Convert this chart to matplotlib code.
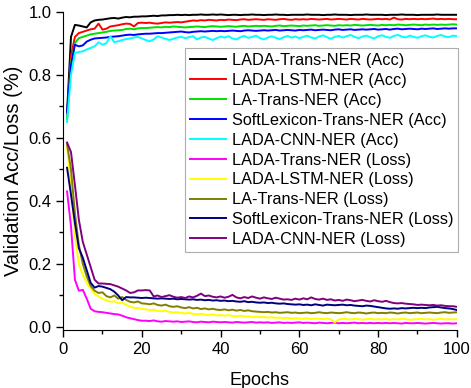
import numpy as np
import matplotlib
matplotlib.use("Agg")
import matplotlib.pyplot as plt
from matplotlib.ticker import MultipleLocator

plt.rcParams['font.family'] = ['Liberation Sans', 'DejaVu Sans']

epochs = np.arange(1, 101)

# validation accuracy
lada_trans_acc = [
    0.68, 0.92, 0.958, 0.956, 0.953, 0.950, 0.966, 0.972, 0.974, 0.975,
    0.977, 0.979, 0.980, 0.978, 0.981, 0.983, 0.982, 0.984, 0.984, 0.985,
    0.985, 0.986, 0.987, 0.986, 0.988, 0.988, 0.989, 0.989, 0.990, 0.989,
    0.990, 0.989, 0.990, 0.990, 0.991, 0.990, 0.990, 0.991, 0.990, 0.991,
    0.990, 0.989, 0.990, 0.990, 0.989, 0.990, 0.990, 0.991, 0.990, 0.990,
    0.989, 0.990, 0.990, 0.991, 0.990, 0.990, 0.989, 0.990, 0.990, 0.990,
    0.990, 0.991, 0.990, 0.990, 0.990, 0.989, 0.990, 0.990, 0.991, 0.990,
    0.990, 0.990, 0.989, 0.990, 0.990, 0.990, 0.991, 0.990, 0.990, 0.990,
    0.990, 0.989, 0.990, 0.990, 0.990, 0.991, 0.990, 0.990, 0.990, 0.989,
    0.990, 0.990, 0.990, 0.990, 0.991, 0.990, 0.990, 0.990, 0.990, 0.990]
lada_lstm_acc = [
    0.66, 0.86, 0.92, 0.932, 0.936, 0.940, 0.944, 0.946, 0.962, 0.943,
    0.946, 0.953, 0.955, 0.957, 0.960, 0.962, 0.961, 0.953, 0.964, 0.965,
    0.964, 0.965, 0.963, 0.962, 0.964, 0.966, 0.965, 0.966, 0.967, 0.966,
    0.968, 0.970, 0.972, 0.971, 0.973, 0.972, 0.974, 0.973, 0.972, 0.974,
    0.973, 0.975, 0.974, 0.973, 0.975, 0.976, 0.974, 0.975, 0.976, 0.975,
    0.974, 0.976, 0.975, 0.974, 0.976, 0.977, 0.975, 0.974, 0.976, 0.975,
    0.976, 0.975, 0.977, 0.976, 0.975, 0.976, 0.977, 0.975, 0.976, 0.977,
    0.976, 0.975, 0.977, 0.976, 0.975, 0.977, 0.976, 0.975, 0.976, 0.977,
    0.976, 0.977, 0.975, 0.981, 0.976, 0.975, 0.977, 0.976, 0.977, 0.976,
    0.977, 0.976, 0.977, 0.978, 0.976, 0.977, 0.976, 0.977, 0.976, 0.976]
la_trans_acc = [
    0.66, 0.84, 0.90, 0.916, 0.920, 0.924, 0.928, 0.930, 0.932, 0.934,
    0.936, 0.939, 0.940, 0.941, 0.942, 0.945, 0.946, 0.944, 0.947, 0.948,
    0.948, 0.949, 0.950, 0.951, 0.950, 0.952, 0.951, 0.953, 0.952, 0.951,
    0.950, 0.951, 0.952, 0.953, 0.952, 0.951, 0.953, 0.954, 0.953, 0.952,
    0.953, 0.954, 0.953, 0.952, 0.954, 0.955, 0.953, 0.954, 0.955, 0.954,
    0.955, 0.954, 0.953, 0.955, 0.956, 0.954, 0.955, 0.956, 0.955, 0.954,
    0.956, 0.955, 0.956, 0.957, 0.955, 0.956, 0.957, 0.956, 0.955, 0.957,
    0.956, 0.957, 0.956, 0.958, 0.957, 0.956, 0.957, 0.958, 0.957, 0.956,
    0.958, 0.957, 0.958, 0.957, 0.959, 0.958, 0.957, 0.958, 0.959, 0.958,
    0.957, 0.959, 0.958, 0.959, 0.958, 0.959, 0.958, 0.959, 0.960, 0.959]
softlex_acc = [
    0.68, 0.83, 0.895, 0.890, 0.893, 0.905, 0.911, 0.915, 0.916, 0.917,
    0.918, 0.920, 0.921, 0.922, 0.924, 0.926, 0.927, 0.926, 0.928, 0.929,
    0.930, 0.930, 0.931, 0.932, 0.932, 0.933, 0.934, 0.935, 0.936, 0.937,
    0.935, 0.934, 0.936, 0.937, 0.938, 0.937, 0.938, 0.939, 0.938, 0.939,
    0.938, 0.939, 0.940, 0.939, 0.938, 0.940, 0.941, 0.940, 0.939, 0.940,
    0.941, 0.940, 0.941, 0.942, 0.940, 0.941, 0.942, 0.941, 0.940, 0.942,
    0.941, 0.942, 0.943, 0.941, 0.942, 0.943, 0.942, 0.941, 0.943, 0.944,
    0.942, 0.943, 0.944, 0.942, 0.943, 0.944, 0.943, 0.944, 0.945, 0.943,
    0.944, 0.945, 0.943, 0.945, 0.946, 0.944, 0.945, 0.946, 0.945, 0.944,
    0.946, 0.945, 0.946, 0.947, 0.945, 0.946, 0.947, 0.946, 0.947, 0.947]
lada_cnn_acc = [
    0.65, 0.80, 0.869, 0.872, 0.874, 0.880, 0.885, 0.890, 0.903, 0.895,
    0.900, 0.922, 0.903, 0.906, 0.910, 0.913, 0.915, 0.918, 0.920, 0.915,
    0.910, 0.906, 0.912, 0.922, 0.918, 0.914, 0.910, 0.914, 0.918, 0.920,
    0.916, 0.919, 0.922, 0.912, 0.918, 0.920, 0.915, 0.910, 0.916, 0.921,
    0.918, 0.922, 0.915, 0.912, 0.919, 0.923, 0.917, 0.920, 0.924, 0.916,
    0.912, 0.918, 0.922, 0.917, 0.913, 0.919, 0.923, 0.918, 0.921, 0.916,
    0.920, 0.924, 0.918, 0.915, 0.921, 0.925, 0.919, 0.914, 0.920, 0.923,
    0.918, 0.922, 0.926, 0.920, 0.916, 0.921, 0.924, 0.919, 0.915, 0.922,
    0.925, 0.920, 0.917, 0.923, 0.926, 0.921, 0.918, 0.924, 0.920, 0.917,
    0.922, 0.925, 0.920, 0.918, 0.923, 0.926, 0.921, 0.919, 0.924, 0.922]

# validation loss
lada_trans_loss = [
    0.43, 0.32, 0.15, 0.115, 0.118, 0.090, 0.058, 0.050, 0.048, 0.047,
    0.045, 0.043, 0.041, 0.040, 0.036, 0.031, 0.028, 0.025, 0.022, 0.020,
    0.020, 0.019, 0.021, 0.018, 0.017, 0.019, 0.018, 0.017, 0.018, 0.016,
    0.017, 0.018, 0.016, 0.015, 0.017, 0.016, 0.015, 0.017, 0.016, 0.015,
    0.016, 0.015, 0.014, 0.016, 0.015, 0.014, 0.015, 0.016, 0.014, 0.015,
    0.014, 0.015, 0.013, 0.014, 0.015, 0.013, 0.014, 0.013, 0.014, 0.015,
    0.013, 0.014, 0.013, 0.012, 0.014, 0.013, 0.012, 0.013, 0.014, 0.012,
    0.013, 0.012, 0.013, 0.014, 0.012, 0.013, 0.012, 0.013, 0.012, 0.013,
    0.012, 0.013, 0.012, 0.013, 0.012, 0.011, 0.013, 0.012, 0.012, 0.013,
    0.012, 0.011, 0.012, 0.013, 0.012, 0.011, 0.012, 0.012, 0.011, 0.012]
lada_lstm_loss = [
    0.57, 0.45, 0.29, 0.20, 0.165, 0.140, 0.122, 0.105, 0.097, 0.090,
    0.085, 0.080, 0.082, 0.075, 0.078, 0.070, 0.065, 0.061, 0.060, 0.058,
    0.056, 0.054, 0.055, 0.051, 0.050, 0.052, 0.048, 0.046, 0.047, 0.045,
    0.043, 0.045, 0.042, 0.040, 0.042, 0.039, 0.038, 0.040, 0.037, 0.038,
    0.036, 0.038, 0.035, 0.034, 0.036, 0.033, 0.034, 0.032, 0.033, 0.031,
    0.032, 0.030, 0.031, 0.029, 0.030, 0.028, 0.029, 0.027, 0.028, 0.027,
    0.026, 0.028, 0.025, 0.027, 0.026, 0.025, 0.027, 0.024, 0.015, 0.024,
    0.026, 0.025, 0.024, 0.026, 0.025, 0.023, 0.025, 0.026, 0.024, 0.025,
    0.024, 0.026, 0.023, 0.025, 0.024, 0.026, 0.025, 0.023, 0.024, 0.025,
    0.026, 0.024, 0.025, 0.023, 0.025, 0.026, 0.024, 0.025, 0.024, 0.025]
la_trans_loss = [
    0.58, 0.50, 0.36, 0.26, 0.20, 0.160, 0.130, 0.115, 0.108, 0.110,
    0.098, 0.094, 0.100, 0.090, 0.095, 0.086, 0.080, 0.078, 0.081, 0.075,
    0.074, 0.072, 0.075, 0.070, 0.068, 0.071, 0.066, 0.064, 0.066, 0.062,
    0.060, 0.063, 0.059, 0.061, 0.057, 0.059, 0.056, 0.058, 0.055, 0.054,
    0.056, 0.053, 0.055, 0.052, 0.054, 0.051, 0.053, 0.050, 0.049, 0.048,
    0.047, 0.048, 0.046, 0.047, 0.045, 0.046, 0.047, 0.045, 0.046, 0.044,
    0.045, 0.046, 0.044, 0.045, 0.047, 0.045, 0.044, 0.046, 0.045, 0.044,
    0.045, 0.047, 0.045, 0.044, 0.046, 0.045, 0.043, 0.045, 0.046, 0.044,
    0.045, 0.044, 0.046, 0.045, 0.043, 0.045, 0.046, 0.044, 0.045, 0.046,
    0.044, 0.045, 0.046, 0.045, 0.044, 0.046, 0.047, 0.045, 0.046, 0.047]
softlex_loss = [
    0.505, 0.42, 0.33, 0.25, 0.22, 0.18, 0.14, 0.125, 0.130, 0.128,
    0.124, 0.120, 0.112, 0.100, 0.085, 0.095, 0.094, 0.094, 0.093, 0.092,
    0.093, 0.092, 0.091, 0.090, 0.091, 0.090, 0.089, 0.090, 0.088, 0.089,
    0.088, 0.087, 0.088, 0.086, 0.087, 0.085, 0.086, 0.084, 0.085, 0.083,
    0.084, 0.082, 0.083, 0.081, 0.080, 0.082, 0.079, 0.080, 0.078, 0.077,
    0.078, 0.076, 0.077, 0.075, 0.074, 0.075, 0.073, 0.072, 0.071, 0.072,
    0.070, 0.071, 0.069, 0.072, 0.070, 0.068, 0.071, 0.070, 0.069, 0.070,
    0.071, 0.069, 0.070, 0.068, 0.067, 0.066, 0.068, 0.067, 0.065, 0.063,
    0.061, 0.059, 0.058, 0.059, 0.058, 0.060, 0.059, 0.060, 0.061, 0.060,
    0.061, 0.060, 0.062, 0.063, 0.064, 0.062, 0.060, 0.059, 0.057, 0.054]
lada_cnn_loss = [
    0.585, 0.555, 0.45, 0.34, 0.27, 0.23, 0.19, 0.15, 0.138, 0.138,
    0.137, 0.136, 0.132, 0.128, 0.122, 0.116, 0.108, 0.110, 0.116, 0.116,
    0.117, 0.116, 0.097, 0.100, 0.095, 0.098, 0.101, 0.096, 0.093, 0.095,
    0.092, 0.097, 0.094, 0.099, 0.106, 0.098, 0.100, 0.096, 0.094, 0.097,
    0.093, 0.096, 0.102, 0.094, 0.091, 0.095, 0.092, 0.097, 0.093, 0.090,
    0.094, 0.091, 0.089, 0.093, 0.090, 0.087, 0.088, 0.086, 0.090, 0.087,
    0.091, 0.088, 0.094, 0.089, 0.087, 0.090, 0.086, 0.088, 0.084, 0.086,
    0.083, 0.087, 0.085, 0.082, 0.084, 0.086, 0.083, 0.081, 0.085, 0.082,
    0.080, 0.083, 0.079, 0.076, 0.075, 0.076, 0.074, 0.073, 0.072, 0.070,
    0.071, 0.070, 0.069, 0.070, 0.068, 0.069, 0.067, 0.066, 0.066, 0.064]

series = [
    ("LADA-Trans-NER (Acc)", lada_trans_acc, "#000000"),
    ("LADA-LSTM-NER (Acc)", lada_lstm_acc, "#FF0000"),
    ("LA-Trans-NER (Acc)", la_trans_acc, "#00E000"),
    ("SoftLexicon-Trans-NER (Acc)", softlex_acc, "#0000FF"),
    ("LADA-CNN-NER (Acc)", lada_cnn_acc, "#00FFFF"),
    ("LADA-Trans-NER (Loss)", lada_trans_loss, "#FF00FF"),
    ("LADA-LSTM-NER (Loss)", lada_lstm_loss, "#FFFF00"),
    ("LA-Trans-NER (Loss)", la_trans_loss, "#808000"),
    ("SoftLexicon-Trans-NER (Loss)", softlex_loss, "#000080"),
    ("LADA-CNN-NER (Loss)", lada_cnn_loss, "#800080"),
]

fig = plt.figure(figsize=(4.71, 3.88), dpi=100)
ax = fig.add_axes([0.134, 0.149, 0.836, 0.821])

for label, vals, col in series:
    ax.plot(epochs, vals, color=col, lw=1.4, label=label)

ax.set_xlim(0, 100)
ax.set_ylim(-0.01, 1.0)
ax.xaxis.set_major_locator(MultipleLocator(20))
ax.xaxis.set_minor_locator(MultipleLocator(10))
ax.yaxis.set_major_locator(MultipleLocator(0.2))
ax.yaxis.set_minor_locator(MultipleLocator(0.1))
ax.yaxis.set_major_formatter(matplotlib.ticker.FormatStrFormatter("%.1f"))
ax.spines["top"].set_visible(False)
ax.spines["right"].set_visible(False)
ax.tick_params(which="major", direction="out", length=5, width=1, labelsize=12)
ax.tick_params(which="minor", direction="out", length=3, width=1)
ax.set_xlabel("Epochs", fontsize=13, labelpad=11)
ax.set_ylabel("Validation Acc/Loss (%)", fontsize=14.5, labelpad=4)

leg = ax.legend(loc="upper right", bbox_to_anchor=(1.003, 0.885), fontsize=11.7,
                frameon=True, fancybox=False, edgecolor="#999999",
                labelspacing=0.3, handlelength=2.2, handletextpad=0.36,
                borderpad=0.3, borderaxespad=0.0)
leg.get_frame().set_linewidth(0.8)

fig.savefig("out.png", dpi=100)
